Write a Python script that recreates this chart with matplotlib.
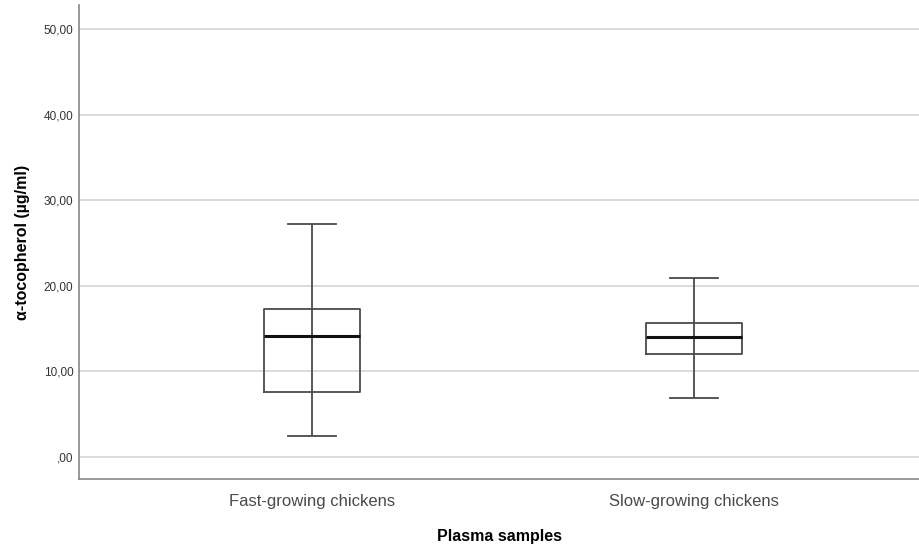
import matplotlib
matplotlib.use("Agg")
import matplotlib.pyplot as plt

plt.rcParams['font.family'] = ['Liberation Sans', 'DejaVu Sans']

categories = ["Fast-growing chickens", "Slow-growing chickens"]
whisker_low = [2.45, 6.9]
q1 = [7.6, 12.0]
median = [14.1, 14.0]
q3 = [17.3, 15.65]
whisker_high = [27.2, 20.9]
yticks = [0, 10, 20, 30, 40, 50]
ytick_labels = [",00", "10,00", "20,00", "30,00", "40,00", "50,00"]

positions = [0, 1]

fig = plt.figure(figsize=(9.19, 5.46), dpi=100)
ax = fig.add_axes([0.086, 0.1227, 0.914, 0.8683])

for y in yticks:
    ax.axhline(y, color="#d4d4d4", lw=1.2, zorder=0)

line_col = "#4a4a4a"
box_w = 0.25
cap_w = 0.126
for x, lo, a, m, b, hi in zip(positions, whisker_low, q1, median, q3, whisker_high):
    # continuous stem from lower to upper whisker, visible through the box
    ax.plot([x, x], [lo, hi], color=line_col, lw=1.3, zorder=3, solid_capstyle="butt")
    # whisker caps
    ax.plot([x - cap_w / 2, x + cap_w / 2], [lo, lo], color=line_col, lw=1.3, zorder=3)
    ax.plot([x - cap_w / 2, x + cap_w / 2], [hi, hi], color=line_col, lw=1.3, zorder=3)
    # unfilled box
    ax.plot([x - box_w / 2, x + box_w / 2, x + box_w / 2, x - box_w / 2, x - box_w / 2],
            [a, a, b, b, a], color=line_col, lw=1.3, zorder=3)
    # median
    ax.plot([x - box_w / 2, x + box_w / 2], [m, m], color="#111111", lw=2.2, zorder=4,
            solid_capstyle="butt")

ax.set_xlim(-0.61, 1.589)
ax.set_ylim(-2.57, 52.8)
ax.set_yticks(yticks)
ax.set_yticklabels(ytick_labels, fontsize=8.5, color="#333333")
ax.set_xticks(positions)
ax.set_xticklabels(categories, fontsize=12, color="#4a4a4a")
ax.tick_params(axis="y", length=0, pad=4)
ax.tick_params(axis="x", length=0, pad=11)

for s in ["top", "right"]:
    ax.spines[s].set_visible(False)
for s in ["left", "bottom"]:
    ax.spines[s].set_color("#888888")
    ax.spines[s].set_linewidth(1.2)

ax.set_ylabel("α-tocopherol (µg/ml)", fontsize=11.5, fontweight="bold", labelpad=10)
ax.set_xlabel("Plasma samples", fontsize=11.5, fontweight="bold", labelpad=14)

fig.savefig("out.png", dpi=100)
